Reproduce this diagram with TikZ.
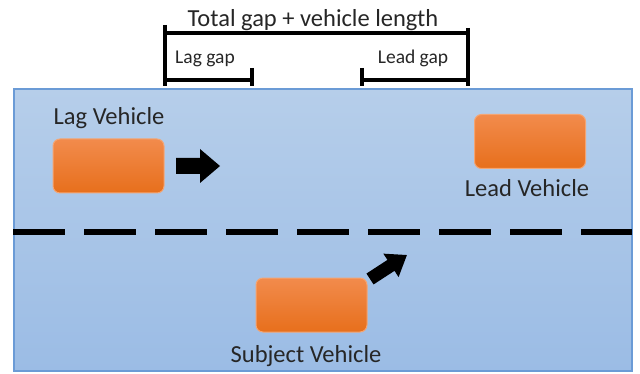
\documentclass[tikz,border=0pt]{standalone}
\usepackage{fontspec}
\setmainfont{Carlito}
\definecolor{roadTop}{HTML}{B6CEEA}
\definecolor{roadBot}{HTML}{9BBCE5}
\definecolor{roadEdge}{HTML}{6B9BD6}
\definecolor{carTop}{HTML}{F28B4C}
\definecolor{carBot}{HTML}{E76F1C}
\definecolor{carEdge}{HTML}{F4A573}
\begin{document}
\begin{tikzpicture}[x=1pt,y=-1pt]
    \tikzstyle{every node} = [font=\fontsize{24.5}{28}\selectfont, text=black!85, inner sep=0pt]
    \tikzstyle{small} = [font=\fontsize{19.5}{22}\selectfont]
    \tikzstyle{vehicle} = [draw=carEdge, line width=1pt, rounded corners=7pt, top color=carTop, bottom color=carBot, minimum width=111pt, minimum height=54pt]
    \tikzstyle{bracket} = [line width=3.5pt]
    \useasboundingbox (0,0) rectangle (640,374);
    % road
    \shade[top color=roadTop, bottom color=roadBot, draw=roadEdge, line width=1.5pt] (14,89) rectangle (632,371);
    \draw[line width=5.5pt, dash pattern=on 52pt off 19pt] (13,232) -- (632,232);
    % place nodes
    \node[vehicle](lagCar) at (108.5,166){};
    \node[vehicle](leadCar) at (530,141.5){};
    \node[vehicle](subjCar) at (311.5,305){};
    \node[anchor=base](lagLabel) at (109,125){Lag Vehicle};
    \node[anchor=base](leadLabel) at (527,197){Lead Vehicle};
    \node[anchor=base](subjLabel) at (306,362){Subject Vehicle};
    % motion arrows
    \fill (176,158) -- (200,158) -- (200,149) -- (220,166) -- (200,183) -- (200,174) -- (176,174) -- cycle;
    \begin{scope}[shift={(370,279)}, rotate=33]
      \fill (0,-6.5) -- (25,-6.5) -- (25,-14) -- (44,0) -- (25,14) -- (25,6.5) -- (0,6.5) -- cycle;
    \end{scope}
    % gap brackets
    \coordinate (totL) at (165,33);
    \coordinate (totR) at (468,33);
    \coordinate (lagR) at (252,80);
    \coordinate (leadL) at (362,80);
    \draw[bracket] (165,25) -- (165,86);
    \draw[bracket] (468,28) -- (468,86);
    \draw[bracket] (totL) -- (totR);
    \draw[bracket] (165,80) -- (lagR);
    \draw[bracket] (252,68) -- (252,86);
    \draw[bracket] (362,68) -- (362,86);
    \draw[bracket] (leadL) -- (468,80);
    \node[anchor=base](totLabel) at (313,27){Total gap + vehicle length};
    \node[anchor=base,small](lagGap) at (205,64){Lag gap};
    \node[anchor=base,small](leadGap) at (413,64){Lead gap};
\end{tikzpicture}
\end{document}
